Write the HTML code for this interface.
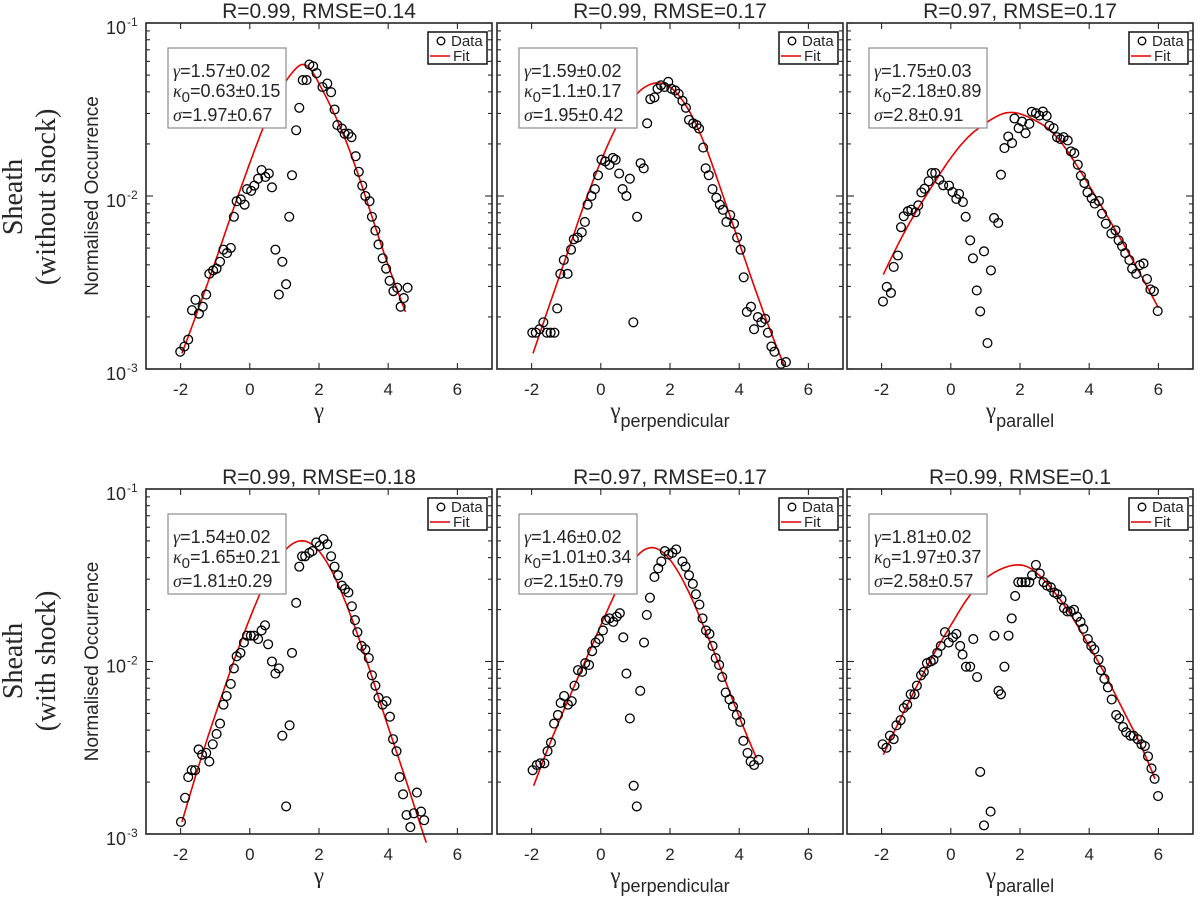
<!DOCTYPE html>
<html>
<head>
<meta charset="utf-8">
<style>
  html,body{margin:0;padding:0;background:#fff;}
  svg{display:block;}
  text{font-family:"Liberation Sans",Arial,sans-serif;fill:#262626;}
  .serif{font-family:"Liberation Serif","DejaVu Serif",serif;}
</style>
</head>
<body>
<svg id="fig" width="1200" height="903" viewBox="0 0 1200 903" xmlns="http://www.w3.org/2000/svg">
  <g>
    <text class="serif" font-size="28" transform="translate(22,197) rotate(-90)" text-anchor="middle" fill="#111">Sheath</text>
    <text class="serif" font-size="28" transform="translate(55,197) rotate(-90)" text-anchor="middle" fill="#111">(without shock)</text>
  </g>
  <g>
    <text class="serif" font-size="28" transform="translate(22,661) rotate(-90)" text-anchor="middle" fill="#111">Sheath</text>
    <text class="serif" font-size="28" transform="translate(55,661) rotate(-90)" text-anchor="middle" fill="#111">(with shock)</text>
  </g>
</svg>
<script>
// ---- Data (x = gamma, y = log10 of normalised occurrence) ----
const p1X=[-2.01,-1.89,-1.78,-1.67,-1.57,-1.47,-1.36,-1.26,-1.17,-1.06,-0.96,-0.86,-0.76,-0.66,-0.55,-0.46,-0.38,-0.26,-0.15,-0.08,0.04,0.13,0.24,0.34,0.45,0.55,0.64,0.74,0.84,0.94,1.05,1.14,1.22,1.34,1.43,1.53,1.64,1.72,1.83,1.93,2.10,2.24,2.35,2.45,2.53,2.66,2.74,2.85,2.94,3.06,3.15,3.25,3.34,3.46,3.53,3.63,3.72,3.84,3.94,4.04,4.15,4.26,4.36,4.45,4.56];
const p1LogY=[-2.90,-2.87,-2.83,-2.66,-2.60,-2.68,-2.64,-2.57,-2.45,-2.43,-2.42,-2.38,-2.31,-2.33,-2.30,-2.12,-2.03,-2.02,-2.05,-1.96,-1.97,-1.94,-1.90,-1.85,-1.89,-1.87,-1.95,-2.31,-2.57,-2.38,-2.51,-2.12,-1.88,-1.62,-1.49,-1.33,-1.33,-1.24,-1.25,-1.29,-1.37,-1.35,-1.40,-1.50,-1.59,-1.61,-1.64,-1.64,-1.66,-1.77,-1.86,-1.94,-2.00,-2.03,-2.12,-2.20,-2.28,-2.36,-2.42,-2.49,-2.55,-2.53,-2.64,-2.59,-2.53];
const p1FitX=[-1.96,-1.5,-1,-0.5,0,0.5,1,1.3,1.5,1.8,2,2.5,3,3.5,4,4.5];
const p1FitLogY=[-2.91,-2.66,-2.38,-2.09,-1.81,-1.55,-1.35,-1.27,-1.24,-1.28,-1.35,-1.55,-1.80,-2.10,-2.40,-2.67];

const p2X=[-1.98,-1.88,-1.77,-1.66,-1.56,-1.45,-1.34,-1.26,-1.17,-1.07,-0.96,-0.86,-0.78,-0.67,-0.55,-0.46,-0.38,-0.27,-0.17,-0.08,0.02,0.13,0.25,0.35,0.43,0.53,0.63,0.74,0.84,0.94,1.05,1.15,1.24,1.34,1.43,1.55,1.64,1.74,1.84,1.95,2.04,2.15,2.25,2.36,2.46,2.55,2.67,2.77,2.84,2.96,3.03,3.12,3.23,3.34,3.44,3.53,3.63,3.74,3.85,3.94,4.04,4.13,4.22,4.34,4.43,4.54,4.64,4.75,4.83,4.93,5.02,5.21,5.35];
const p2LogY=[-2.79,-2.79,-2.77,-2.73,-2.79,-2.79,-2.79,-2.65,-2.45,-2.37,-2.45,-2.31,-2.25,-2.24,-2.21,-2.15,-2.05,-2.00,-1.96,-1.88,-1.79,-1.80,-1.82,-1.78,-1.79,-1.87,-1.96,-2.00,-1.90,-2.73,-2.12,-1.81,-1.84,-1.58,-1.44,-1.43,-1.38,-1.36,-1.37,-1.34,-1.38,-1.39,-1.41,-1.45,-1.49,-1.56,-1.58,-1.59,-1.61,-1.72,-1.84,-1.88,-1.96,-2.01,-2.05,-2.08,-2.15,-2.11,-2.16,-2.24,-2.31,-2.47,-2.67,-2.64,-2.77,-2.70,-2.73,-2.71,-2.79,-2.87,-2.90,-2.97,-2.96];
const p2FitX=[-1.96,-1.5,-1,-0.5,0,0.5,1,1.5,1.8,2,2.5,3,3.5,4,4.5,5,5.3];
const p2FitLogY=[-2.91,-2.64,-2.35,-2.06,-1.80,-1.58,-1.42,-1.35,-1.35,-1.37,-1.49,-1.70,-1.98,-2.27,-2.56,-2.83,-2.98];

const p3X=[-1.96,-1.85,-1.73,-1.65,-1.53,-1.44,-1.36,-1.24,-1.14,-1.02,-0.94,-0.85,-0.76,-0.64,-0.55,-0.45,-0.33,-0.22,-0.05,0.05,0.16,0.24,0.35,0.43,0.56,0.64,0.75,0.85,0.96,1.06,1.16,1.25,1.37,1.45,1.55,1.66,1.77,1.84,1.96,2.06,2.16,2.27,2.34,2.46,2.56,2.66,2.77,2.85,2.97,3.07,3.17,3.26,3.38,3.47,3.57,3.67,3.76,3.86,3.95,4.07,4.16,4.28,4.37,4.48,4.64,4.76,4.85,4.95,5.04,5.16,5.24,5.36,5.46,5.57,5.67,5.77,5.87,5.98];
const p3LogY=[-2.61,-2.525,-2.56,-2.41,-2.344,-2.18,-2.117,-2.088,-2.079,-2.094,-2.054,-1.979,-1.958,-1.915,-1.867,-1.867,-1.906,-1.938,-1.94,-1.977,-2.017,-1.988,-2.035,-2.12,-2.256,-2.36,-2.546,-2.667,-2.32,-2.85,-2.43,-2.127,-2.156,-1.877,-1.723,-1.656,-1.694,-1.552,-1.608,-1.57,-1.637,-1.583,-1.513,-1.521,-1.535,-1.512,-1.537,-1.594,-1.608,-1.66,-1.671,-1.66,-1.679,-1.742,-1.752,-1.819,-1.883,-1.925,-1.979,-2.013,-2.044,-2.029,-2.102,-2.16,-2.217,-2.198,-2.256,-2.29,-2.33,-2.37,-2.42,-2.45,-2.40,-2.39,-2.48,-2.54,-2.55,-2.665];
const p3FitX=[-1.95,-1.5,-1,-0.5,0,0.5,1,1.5,1.7,2,2.5,3,3.5,4,4.5,5,5.5,6];
const p3FitLogY=[-2.454,-2.27,-2.09,-1.93,-1.78,-1.66,-1.58,-1.525,-1.517,-1.525,-1.57,-1.645,-1.78,-1.94,-2.11,-2.28,-2.46,-2.646];

const p4X=[-1.99,-1.87,-1.78,-1.68,-1.58,-1.48,-1.38,-1.26,-1.17,-1.07,-0.96,-0.86,-0.76,-0.67,-0.55,-0.46,-0.38,-0.27,-0.17,-0.08,0.03,0.12,0.24,0.34,0.44,0.53,0.64,0.74,0.84,0.94,1.05,1.15,1.22,1.34,1.43,1.51,1.60,1.72,1.81,1.92,2.02,2.13,2.24,2.35,2.45,2.55,2.66,2.75,2.85,2.95,3.04,3.11,3.23,3.34,3.44,3.53,3.63,3.72,3.84,3.95,4.05,4.14,4.24,4.33,4.43,4.53,4.64,4.74,4.83,4.95,5.04];
const p4LogY=[-2.93,-2.79,-2.67,-2.63,-2.63,-2.51,-2.54,-2.53,-2.58,-2.48,-2.42,-2.36,-2.25,-2.20,-2.13,-2.04,-1.97,-1.95,-1.89,-1.85,-1.85,-1.85,-1.87,-1.82,-1.79,-1.90,-2.00,-2.07,-2.04,-2.43,-2.84,-2.37,-1.95,-1.66,-1.45,-1.39,-1.39,-1.37,-1.36,-1.31,-1.33,-1.29,-1.32,-1.39,-1.45,-1.50,-1.56,-1.58,-1.60,-1.68,-1.76,-1.83,-1.91,-1.93,-1.98,-2.08,-2.14,-2.21,-2.25,-2.23,-2.32,-2.45,-2.52,-2.67,-2.77,-2.89,-2.96,-2.88,-2.76,-2.87,-2.92];
const p4FitX=[-1.96,-1.5,-1,-0.5,0,0.5,1,1.5,2,2.5,3,3.5,4,4.5,5,5.1];
const p4FitLogY=[-2.93,-2.62,-2.31,-2.02,-1.75,-1.52,-1.36,-1.30,-1.36,-1.53,-1.78,-2.07,-2.38,-2.68,-2.99,-3.05];

const p5X=[-1.97,-1.85,-1.75,-1.63,-1.54,-1.44,-1.35,-1.24,-1.16,-1.06,-0.95,-0.84,-0.76,-0.66,-0.54,-0.45,-0.34,-0.25,-0.15,-0.05,0.06,0.15,0.25,0.36,0.46,0.55,0.65,0.74,0.84,0.95,1.04,1.14,1.25,1.33,1.42,1.55,1.66,1.75,1.85,1.96,2.07,2.18,2.36,2.45,2.55,2.66,2.75,2.85,2.94,3.04,3.14,3.23,3.32,3.42,3.51,3.61,3.72,3.82,3.93,4.03,4.12,4.24,4.33,4.43,4.56];
const p5LogY=[-2.63,-2.60,-2.59,-2.59,-2.52,-2.47,-2.36,-2.31,-2.24,-2.20,-2.25,-2.23,-2.14,-2.05,-2.06,-2.01,-2.02,-1.94,-1.89,-1.87,-1.82,-1.76,-1.75,-1.77,-1.74,-1.72,-1.86,-2.07,-2.33,-2.72,-2.84,-2.17,-1.89,-1.73,-1.63,-1.51,-1.46,-1.42,-1.36,-1.38,-1.37,-1.35,-1.42,-1.45,-1.50,-1.55,-1.61,-1.67,-1.75,-1.82,-1.84,-1.91,-1.98,-2.02,-2.09,-2.18,-2.22,-2.26,-2.31,-2.35,-2.46,-2.53,-2.58,-2.60,-2.57];
const p5FitX=[-1.94,-1.5,-1,-0.5,0,0.5,1,1.45,2,2.5,3,3.5,4,4.5];
const p5FitLogY=[-2.72,-2.49,-2.25,-2.02,-1.79,-1.57,-1.40,-1.34,-1.41,-1.58,-1.81,-2.06,-2.32,-2.56];

const p6X=[-1.97,-1.86,-1.76,-1.65,-1.57,-1.45,-1.36,-1.26,-1.16,-1.05,-0.98,-0.86,-0.78,-0.69,-0.58,-0.50,-0.39,-0.29,-0.17,-0.06,0.06,0.16,0.27,0.34,0.44,0.56,0.65,0.76,0.85,0.96,1.15,1.26,1.38,1.45,1.55,1.67,1.76,1.86,1.95,2.05,2.16,2.27,2.35,2.46,2.57,2.68,2.78,2.89,2.99,3.08,3.20,3.27,3.37,3.46,3.56,3.65,3.75,3.83,3.96,4.06,4.15,4.27,4.34,4.44,4.54,4.65,4.78,4.87,4.98,5.07,5.19,5.28,5.40,5.51,5.61,5.70,5.80,5.89,5.99];
const p6LogY=[-2.48,-2.50,-2.43,-2.45,-2.37,-2.34,-2.27,-2.25,-2.19,-2.19,-2.14,-2.08,-2.06,-2.01,-2.00,-1.99,-1.95,-1.91,-1.83,-1.89,-1.86,-1.84,-1.91,-1.96,-2.03,-2.03,-1.87,-2.09,-2.64,-2.95,-2.87,-1.85,-2.17,-2.19,-2.03,-1.85,-1.75,-1.62,-1.54,-1.54,-1.54,-1.54,-1.50,-1.44,-1.49,-1.54,-1.56,-1.57,-1.60,-1.61,-1.64,-1.69,-1.71,-1.71,-1.70,-1.74,-1.77,-1.81,-1.87,-1.91,-1.93,-1.99,-2.05,-2.10,-2.15,-2.22,-2.31,-2.33,-2.38,-2.41,-2.43,-2.43,-2.45,-2.48,-2.49,-2.55,-2.62,-2.68,-2.78];
const p6FitX=[-1.95,-1.5,-1,-0.5,0,0.5,1,1.5,1.9,2.2,2.5,3,3.5,4,4.5,5,5.5,5.9];
const p6FitLogY=[-2.54,-2.35,-2.15,-1.96,-1.79,-1.63,-1.52,-1.46,-1.44,-1.45,-1.49,-1.60,-1.74,-1.91,-2.09,-2.29,-2.49,-2.68];

const titles=["R=0.99, RMSE=0.14","R=0.99, RMSE=0.17","R=0.97, RMSE=0.17","R=0.99, RMSE=0.18","R=0.97, RMSE=0.17","R=0.99, RMSE=0.1"];
const gammaVals=["1.57±0.02","1.59±0.02","1.75±0.03","1.54±0.02","1.46±0.02","1.81±0.02"];
const kappaVals=["0.63±0.15","1.1±0.17","2.18±0.89","1.65±0.21","1.01±0.34","1.97±0.37"];
const sigmaVals=["1.97±0.67","1.95±0.42","2.8±0.91","1.81±0.29","2.15±0.79","2.58±0.57"];
const xSubs=["","perpendicular","parallel","","perpendicular","parallel"];
const xTicks=[-2,0,2,4,6];
const yDecades=[-1,-2,-3];

const panelsX=[p1X,p2X,p3X,p4X,p5X,p6X];
const panelsY=[p1LogY,p2LogY,p3LogY,p4LogY,p5LogY,p6LogY];
const panelsFX=[p1FitX,p2FitX,p3FitX,p4FitX,p5FitX,p6FitX];
const panelsFY=[p1FitLogY,p2FitLogY,p3FitLogY,p4FitLogY,p5FitLogY,p6FitLogY];

const NS="http://www.w3.org/2000/svg";
const svg=document.getElementById('fig');
function mk(tag,attrs,parent){const e=document.createElementNS(NS,tag);for(const k in attrs)e.setAttribute(k,attrs[k]);(parent||svg).appendChild(e);return e;}

// natural cubic spline
function spline(xs,ys){
  const n=xs.length, h=[], a=[], l=[1], mu=[0], z=[0], c=new Array(n).fill(0), b=[], d=[];
  for(let i=0;i<n-1;i++)h.push(xs[i+1]-xs[i]);
  for(let i=1;i<n-1;i++)a[i]=3/h[i]*(ys[i+1]-ys[i])-3/h[i-1]*(ys[i]-ys[i-1]);
  for(let i=1;i<n-1;i++){l[i]=2*(xs[i+1]-xs[i-1])-h[i-1]*mu[i-1];mu[i]=h[i]/l[i];z[i]=(a[i]-h[i-1]*z[i-1])/l[i];}
  l[n-1]=1;z[n-1]=0;c[n-1]=0;
  for(let j=n-2;j>=0;j--){c[j]=z[j]-mu[j]*c[j+1];b[j]=(ys[j+1]-ys[j])/h[j]-h[j]*(c[j+1]+2*c[j])/3;d[j]=(c[j+1]-c[j])/(3*h[j]);}
  return x=>{let j=0;while(j<n-2&&x>xs[j+1])j++;const t=x-xs[j];return ys[j]+b[j]*t+c[j]*t*t+d[j]*t*t*t;};
}

const lefts=[146,497,847];
const rows=[{t:23,b:369},{t:489,b:834}];
const W=346, XMIN=-3, XMAX=7, LMAX=-1, LMIN=-3;

for(let i=0;i<6;i++){
  const x0=lefts[i%3], row=rows[Math.floor(i/3)], top=row.t, bot=row.b, H=bot-top;
  const sx=v=>x0+(v-XMIN)/(XMAX-XMIN)*W;
  const sy=l=>top+(LMAX-l)/(LMAX-LMIN)*H;
  const g=mk('g',{});
  
  

  const tt=mk('text',{x:x0+W/2,y:top-5,'text-anchor':'middle','font-size':21},g);
  
  
  tt.textContent=titles[i];

  const tk=mk('g',{stroke:'#262626','stroke-width':1.1},g);
  
  
  xTicks.forEach(v=>{
    const X=sx(v);
    mk('line',{x1:X,x2:X,y1:bot,y2:bot-6},tk);
    mk('line',{x1:X,x2:X,y1:top,y2:top+6},tk);
  });
  for(let d=-3;d<-1+1e-9;d++){
    for(let m=1;m<=9;m++){
      const l=d+Math.log10(m);
      if(l>LMAX+1e-9)continue;
      const Y=sy(l), len=(m===1)?7:4;
      mk('line',{x1:x0,x2:x0+len,y1:Y,y2:Y},tk);
      mk('line',{x1:x0+W,x2:x0+W-len,y1:Y,y2:Y},tk);
    }
  }
  xTicks.forEach(v=>{
    const t=mk('text',{x:sx(v),y:bot+26,'text-anchor':'middle','font-size':17},g);
    
    
    t.textContent=String(v);
  });
  if(i%3===0){
    yDecades.forEach(d=>{
      const Y=sy(d);
      const t=mk('text',{x:x0-20,y:Y+11,'text-anchor':'end','font-size':18},g);
      
      
      t.textContent='10';
      const s=mk('text',{x:x0-19,y:Y+3,'text-anchor':'start','font-size':12},g);
      
      
      s.textContent=String(d);
    });
    const yl=mk('text',{'font-size':19,'text-anchor':'middle',transform:`translate(98,${(top+bot)/2}) rotate(-90)`},g);
    
    
    yl.textContent='Normalised Occurrence';
  }
  const xl=mk('text',{x:x0+W/2,y:bot+49,'text-anchor':'middle','font-size':18},g);
  
  
  const tg=mk('tspan',{'font-family':'"Liberation Serif","DejaVu Serif",serif','font-size':23},xl);
  tg.textContent='γ';
  if(xSubs[i]){const ts=mk('tspan',{dy:9},xl);ts.textContent=xSubs[i];}

  // fit curve via natural cubic spline through fit points
  const fx=panelsFX[i], fy=panelsFY[i];
  const f=spline(fx,fy);
  const x1=fx[0], x2=fx[fx.length-1], N=120;
  let d='';
  for(let k=0;k<=N;k++){
    const v=x1+(x2-x1)*k/N;
    d+=(k?'L':'M')+sx(v).toFixed(1)+','+sy(f(v)).toFixed(1);
  }
  const fit=mk('path',{d:d,fill:'none',stroke:'#e00000','stroke-width':1.6,'stroke-linejoin':'round'},g);
  
  

  const dg=mk('g',{fill:'none',stroke:'#000','stroke-width':1.3},g);
  
  
  panelsX[i].forEach((v,k)=>{
    const c=mk('circle',{cx:sx(v),cy:sy(panelsY[i][k]),r:4.4},dg);
    
    
  });

  const box=mk('rect',{x:x0,y:top,width:W,height:H,fill:'none',stroke:'#262626','stroke-width':1.6},g);
  
  

  const ag=mk('g',{},g);
  
  
  mk('rect',{x:x0+22,y:top+25,width:118,height:80,fill:'#fff',stroke:'#8c8c8c','stroke-width':1.2},ag);
  const sf='"Liberation Serif","DejaVu Serif",serif';
  const a1=mk('text',{x:x0+27,y:top+54,'font-size':18},ag);
  
  
  let s=mk('tspan',{'font-family':sf,'font-style':'italic'},a1);s.textContent='γ';
  s=mk('tspan',{},a1);s.textContent='='+gammaVals[i];
  const a2=mk('text',{x:x0+27,y:top+74,'font-size':18},ag);
  
  
  s=mk('tspan',{'font-family':sf,'font-style':'italic'},a2);s.textContent='κ';
  s=mk('tspan',{dy:5,'font-size':15},a2);s.textContent='0';
  s=mk('tspan',{dy:-5},a2);s.textContent='='+kappaVals[i];
  const a3=mk('text',{x:x0+27,y:top+98,'font-size':18},ag);
  
  
  s=mk('tspan',{'font-family':sf,'font-style':'italic'},a3);s.textContent='σ';
  s=mk('tspan',{},a3);s.textContent='='+sigmaVals[i];

  const lg=mk('g',{},g);
  
  
  mk('rect',{x:x0+282,y:top+9,width:59,height:32,fill:'#fff',stroke:'#111','stroke-width':1.5},lg);
  const le1=mk('g',{},lg);
  
  
  mk('circle',{cx:x0+295,cy:top+18,r:3.8,fill:'none',stroke:'#000','stroke-width':1.3},le1);
  const lt1=mk('text',{x:x0+305,y:top+23,'font-size':15},le1);lt1.textContent='Data';
  const le2=mk('g',{},lg);
  
  
  mk('line',{x1:x0+284,x2:x0+304,y1:top+33,y2:top+33,stroke:'#e00000','stroke-width':1.6},le2);
  const lt2=mk('text',{x:x0+307,y:top+38,'font-size':15},le2);lt2.textContent='Fit';
}
</script>
</body>
</html>
